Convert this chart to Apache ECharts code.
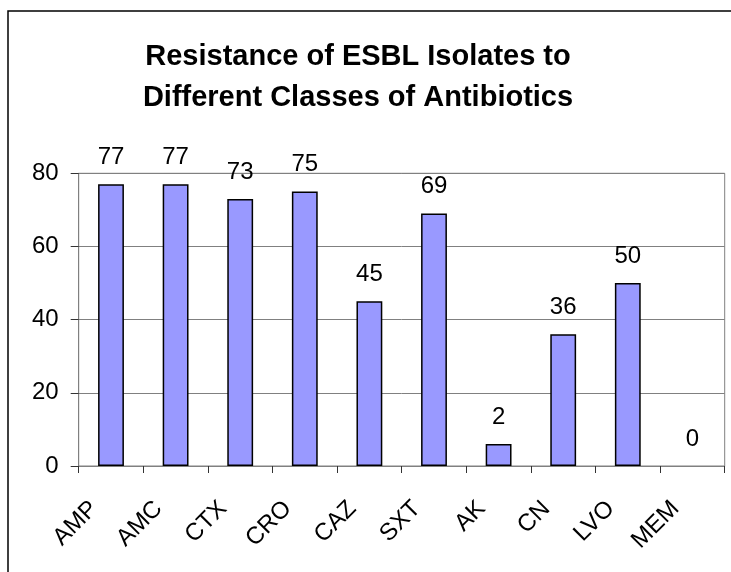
<!DOCTYPE html>
<html>
<head>
<meta charset="utf-8">
<script src="https://cdn.jsdelivr.net/npm/echarts@6/dist/echarts.min.js"></script>
<style>html,body{margin:0;padding:0;background:#fff}#c{width:731px;height:572px}</style>
</head>
<body>
<div id="c"></div>
<script>
var titleText = 'Resistance of ESBL Isolates to\nDifferent Classes of Antibiotics';
var categories = ['AMP', 'AMC', 'CTX', 'CRO', 'CAZ', 'SXT', 'AK', 'CN', 'LVO', 'MEM'];
var values = [77, 77, 73, 75, 45, 69, 6, 36, 50, 0];
var labelTexts = ['77', '77', '73', '75', '45', '69', '2', '36', '50', '0'];
var yTicks = [0, 20, 40, 60, 80];

var chart = echarts.init(document.getElementById('c'), null, {renderer: 'canvas'});
var font = 'Liberation Sans, Arial, sans-serif';
var barData = values.map(function (v) {
  return v === 0 ? {value: v, itemStyle: {borderWidth: 0}} : v;
});
chart.setOption({
  animation: false,
  backgroundColor: '#ffffff',
  title: {
    text: titleText,
    left: 353, top: 31, textAlign: 'center',
    textStyle: {fontFamily: font, fontWeight: 'bold', fontSize: 29, lineHeight: 41, color: '#000'}
  },
  graphic: [{
    type: 'rect', shape: {x: 8, y: 11, width: 900, height: 900},
    style: {fill: 'none', stroke: '#000', lineWidth: 1.5}, silent: true, z: 100
  }],
  grid: {left: 78.7, right: 6.3, top: 173.3, bottom: 106, show: true, borderColor: '#808080', borderWidth: 1},
  xAxis: {
    type: 'category', data: categories,
    axisLine: {lineStyle: {color: '#808080', width: 1}},
    axisTick: {show: true, length: 7, alignWithLabel: false, lineStyle: {color: '#333'}},
    axisLabel: {rotate: 45, fontFamily: font, fontSize: 24, color: '#000', margin: 22, padding: [0, 24, 0, 0], interval: 0}
  },
  yAxis: {
    type: 'value', min: yTicks[0], max: yTicks[yTicks.length - 1], interval: 20,
    axisLine: {show: true, lineStyle: {color: '#808080', width: 1}},
    axisTick: {show: true, length: 8, lineStyle: {color: '#333'}},
    splitLine: {show: true, lineStyle: {color: '#808080', width: 1}},
    axisLabel: {fontFamily: font, fontSize: 24, color: '#000', margin: 20}
  },
  series: [{
    type: 'bar', data: barData, barWidth: '40%',
    itemStyle: {color: '#9999FF', borderColor: '#000', borderWidth: 1.5},
    label: {
      show: true, position: 'top', distance: 15,
      fontFamily: font, fontSize: 24, color: '#000',
      formatter: function (p) { return labelTexts[p.dataIndex]; }
    }
  }]
});
</script>
</body>
</html>
